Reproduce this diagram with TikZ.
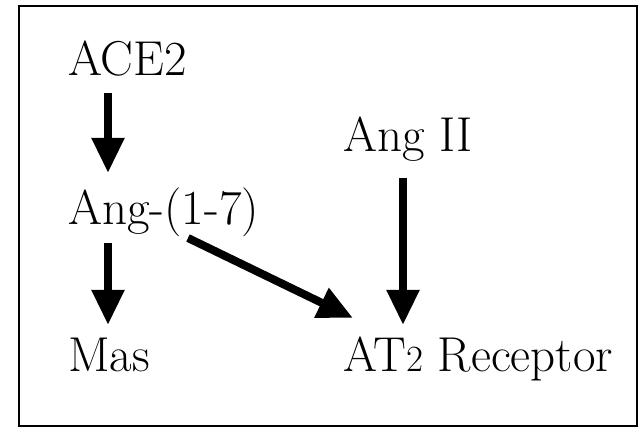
\documentclass[tikz,border=0pt]{standalone}
\usetikzlibrary{arrows.meta}
\tikzset{
  lbl/.style={anchor=base west, inner sep=0pt, font=\fontsize{49}{56}\selectfont},
  arr/.style={line width=8pt, -{Triangle[length=35pt,width=31pt]}},
  frame/.style={line width=2.5pt}
}
\begin{document}
\begin{tikzpicture}[x=1pt,y=-1pt]
\useasboundingbox (0,0) rectangle (640,427);
\draw[frame] (19,6) rectangle (637,426);
\node[lbl] (ace) at (68,76) {ACE2};
\node[lbl] (ang17) at (68,225) {Ang-(1-7)};
\node[lbl] (mas) at (68,372) {Mas};
\node[lbl] (ang2) at (343,152) {Ang II};
\node[lbl] (at2) at (343,372) {AT{\fontsize{37}{40}\selectfont 2} Receptor};
\draw[arr] ([shift={(40pt,-17pt)}]ace.base west) -- ([shift={(40pt,52pt)}]ang17.base west);
\draw[arr] ([shift={(40pt,-18pt)}]ang17.base west) -- ([shift={(40pt,47pt)}]mas.base west);
\draw[arr] ([shift={(60pt,-26pt)}]ang2.base west) -- ([shift={(60pt,47pt)}]at2.base west);
\draw[arr] ([shift={(120pt,-13pt)}]ang17.base west) -- ([shift={(10pt,54pt)}]at2.base west);
\end{tikzpicture}
\end{document}
